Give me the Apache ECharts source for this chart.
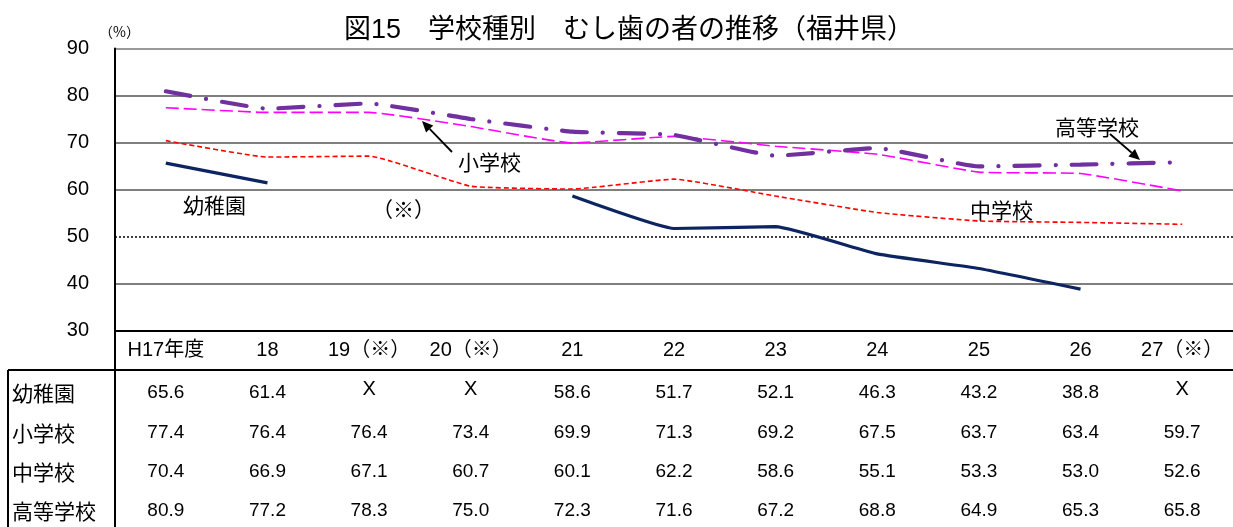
<!DOCTYPE html>
<html>
<head>
<meta charset="utf-8">
<script src="https://cdn.jsdelivr.net/npm/echarts@6/dist/echarts.min.js"></script>
<style>
html, body { margin: 0; padding: 0; background: #fff; }
#graph { width: 1233px; height: 527px; }
</style>
</head>
<body>
<div id="graph"></div>
<script>
// 年度
const years = ['H17年度', '18', '19（※）', '20（※）', '21', '22', '23', '24', '25', '26', '27（※）'];
// むし歯の者の割合 (%)
const kindergarten = [65.6, 61.4, null, null, 58.6, 51.7, 52.1, 46.3, 43.2, 38.8, null];
const elementary = [77.4, 76.4, 76.4, 73.4, 69.9, 71.3, 69.2, 67.5, 63.7, 63.4, 59.7];
const juniorHigh = [70.4, 66.9, 67.1, 60.7, 60.1, 62.2, 58.6, 55.1, 53.3, 53.0, 52.6];
const highSchool = [80.9, 77.2, 78.3, 75.0, 72.3, 71.6, 67.2, 68.8, 64.9, 65.3, 65.8];
const rowNames = ['幼稚園', '小学校', '中学校', '高等学校'];

const numFont = '"Liberation Sans", Arial, "Noto Sans CJK JP", sans-serif';
const jpFont = '"Noto Sans CJK JP", sans-serif';

var myChart = echarts.init(document.getElementById('graph'));

function lineSeries(name, data, color, width, type, cap) {
	return {
		name: name,
		type: 'line',
		data: data,
		smooth: 0.12,
		symbol: 'none',
		connectNulls: false,
		lineStyle: { color: color, width: width, type: type, cap: cap || 'butt' },
		z: 5
	};
}

let series = [
	lineSeries('中学校', juniorHigh, '#ff0000', 1.6, [5, 3]),
	lineSeries('小学校', elementary, '#ff00ff', 1.6, [13, 5]),
	lineSeries('高等学校', highSchool, '#7030a0', 4.2, [25, 16, 0.1, 16], 'round'),
	lineSeries('幼稚園', kindergarten, '#0c2461', 3.2, 'solid')
];
series[0].markLine = {
	silent: true,
	symbol: 'none',
	label: { show: false },
	lineStyle: { color: '#000', width: 1.5, type: [2, 2] },
	data: [{ yAxis: 50 }]
};

let option = {
	animation: false,
	title: {
		text: '図15　学校種別　むし歯の者の推移（福井県）',
		left: 624,
		textAlign: 'center',
		top: 12,
		textStyle: { fontFamily: numFont, fontSize: 27, fontWeight: 'normal', color: '#000' }
	},
	grid: { left: 115, right: 0, top: 48.5, bottom: 196.5 },
	xAxis: {
		type: 'category',
		data: years,
		boundaryGap: true,
		axisLine: { lineStyle: { color: '#000', width: 2 } },
		axisTick: { show: false },
		axisLabel: { margin: 10, fontSize: 20, color: '#000', fontFamily: numFont, interval: 0 }
	},
	yAxis: {
		type: 'value',
		min: 30,
		max: 90,
		interval: 10,
		axisLine: { show: true, lineStyle: { color: '#000', width: 2 } },
		axisTick: { show: false },
		axisLabel: { margin: 26, fontSize: 20, color: '#000', fontFamily: numFont },
		splitLine: {
			lineStyle: { color: ['transparent', '#555', 'transparent', '#555', '#555', '#555', '#777'], width: 1.6 }
		}
	},
	series: series
};
myChart.setOption(option);

// 表 (データテーブル)
const rows = [kindergarten, elementary, juniorHigh, highSchool];
const rowY = [393, 433, 472, 511];
let g = [];
g.push({ type: 'line', shape: { x1: 115, y1: 330, x2: 115, y2: 527 }, style: { stroke: '#000', lineWidth: 2 } });
g.push({ type: 'line', shape: { x1: 8, y1: 370, x2: 1233, y2: 370 }, style: { stroke: '#000', lineWidth: 2 } });
g.push({ type: 'line', shape: { x1: 8, y1: 370, x2: 8, y2: 527 }, style: { stroke: '#000', lineWidth: 2 } });
rows.forEach(function (vals, r) {
	g.push({
		type: 'text', x: 12, y: rowY[r],
		style: { text: rowNames[r], fontFamily: jpFont, fontSize: 21, fill: '#000', verticalAlign: 'middle' }
	});
	vals.forEach(function (v, i) {
		let x = myChart.convertToPixel({ xAxisIndex: 0 }, i);
		let isX = v === null;
		g.push({
			type: 'text', x: x, y: isX ? rowY[r] - 4 : rowY[r],
			style: {
				text: isX ? 'X' : v.toFixed(1), fontFamily: numFont, fontSize: isX ? 20 : 19,
				fill: '#000', align: 'center', verticalAlign: 'middle'
			}
		});
	});
});

// 注記
function arrow(x1, y1, x2, y2) {
	let a = Math.atan2(y2 - y1, x2 - x1);
	let L = 11, W = 5;
	let bx = x2 - L * Math.cos(a), by = y2 - L * Math.sin(a);
	let px = -Math.sin(a) * W, py = Math.cos(a) * W;
	return [
		{ type: 'line', shape: { x1: x1, y1: y1, x2: bx, y2: by }, style: { stroke: '#000', lineWidth: 1.8 }, z: 10 },
		{ type: 'polygon', shape: { points: [[x2, y2], [bx + px, by + py], [bx - px, by - py]] }, style: { fill: '#000' }, z: 10 }
	];
}
const notes = [
	{ text: '幼稚園', x: 183, y: 205 },
	{ text: '（※）', x: 372, y: 209 },
	{ text: '小学校', x: 458, y: 162 },
	{ text: '中学校', x: 970, y: 210 },
	{ text: '高等学校', x: 1055, y: 127 }
];
notes.forEach(function (n) {
	g.push({
		type: 'text', x: n.x, y: n.y, z: 10,
		style: { text: n.text, fontFamily: jpFont, fontSize: 21, fill: '#000', verticalAlign: 'middle' }
	});
});
g = g.concat(arrow(452, 152, 422, 121), arrow(1110, 134, 1140, 160));
g.push({
	type: 'text', x: 99, y: 32,
	style: { text: '（%）', fontFamily: jpFont, fontSize: 14, fill: '#000', verticalAlign: 'middle' }
});
myChart.setOption({ graphic: g });
</script>
</body>
</html>
